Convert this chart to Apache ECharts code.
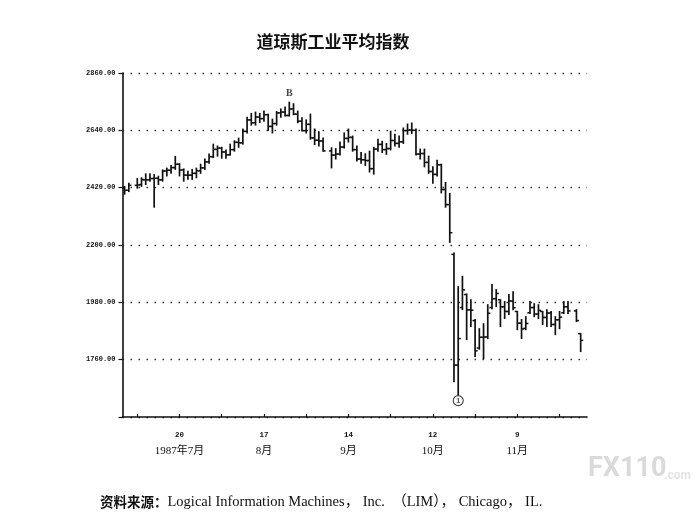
<!DOCTYPE html>
<html>
<head>
<meta charset="utf-8">
<script src="https://cdn.jsdelivr.net/npm/echarts@6.0.0/dist/echarts.min.js"></script>
<style>
html,body{margin:0;padding:0;background:#fff;}
#chart{width:697px;height:523px;}
</style>
</head>
<body>
<div id="chart"></div>
<script>
// Trading-day slots (weekdays, 1987)
const dates = [
 '7-1','7-2','7-3','7-6','7-7','7-8','7-9','7-10','7-13','7-14',
 '7-15','7-16','7-17','7-20','7-21','7-22','7-23','7-24','7-27','7-28',
 '7-29','7-30','7-31','8-3','8-4','8-5','8-6','8-7','8-10','8-11',
 '8-12','8-13','8-14','8-17','8-18','8-19','8-20','8-21','8-24','8-25',
 '8-26','8-27','8-28','8-31','9-1','9-2','9-3','9-4','9-7','9-8',
 '9-9','9-10','9-11','9-14','9-15','9-16','9-17','9-18','9-21','9-22',
 '9-23','9-24','9-25','9-28','9-29','9-30','10-1','10-2','10-5','10-6',
 '10-7','10-8','10-9','10-12','10-13','10-14','10-15','10-16','10-19','10-20',
 '10-21','10-22','10-23','10-26','10-27','10-28','10-29','10-30','11-2','11-3',
 '11-4','11-5','11-6','11-9','11-10','11-11','11-12','11-13','11-16','11-17',
 '11-18','11-19','11-20','11-23','11-24','11-25','11-26','11-27','11-30','12-1'
];
const opens = [
 2418,2410,null,2429,2432,2450,2450,2455,2456,2450,
 2484,2487,2497,2510,2488,2468,2468,2475,2485,2496,
 2519,2539,2567,2572,2557,2546,2566,2594,2592,2636,
 2680,2669,2691,2685,2700,2655,2666,2707,2710,2697,
 2722,2702,2675,2639,2663,2611,2602,2599,null,2561,
 2545,2549,2576,2609,2613,2566,2530,2527,2524,2493,
 2568,2586,2566,2570,2601,2590,2596,2639,2641,2640,
 2549,2551,2517,2482,2471,2508,2413,2355,2164,1739,
 1960,2010,1951,1910,1805,1846,1847,1960,1994,1990,
 1963,1945,1985,1945,1900,1880,1940,1960,1935,1945,
 1922,1939,1895,1913,1940,1963,null,1947,1860,null
];
const highs = [
 2425,2437,null,2455,2458,2473,2473,2470,2464,2488,
 2495,2505,2540,2512,2492,2483,2490,2495,2510,2530,
 2549,2587,2580,2575,2565,2587,2600,2610,2645,2690,
 2705,2710,2705,2714,2702,2683,2712,2722,2730,2748,
 2742,2714,2688,2680,2702,2645,2635,2611,null,2573,
 2570,2595,2630,2645,2618,2580,2555,2550,2560,2575,
 2606,2598,2590,2637,2625,2618,2649,2664,2668,2645,
 2568,2568,2541,2500,2525,2510,2440,2398,2169,2040,
 2080,2012,1990,1914,1879,1898,1971,2048,2029,1990,
 1983,2010,2021,1945,1914,1925,1983,1975,1971,1945,
 1952,1945,1925,1945,1983,1983,null,1952,1860,null
];
const lows = [
 2395,2405,null,2418,2425,2432,2445,2345,2432,2445,
 2465,2475,2490,2465,2445,2452,2452,2458,2475,2490,
 2514,2535,2541,2533,2533,2545,2560,2575,2587,2630,
 2660,2660,2670,2675,2640,2630,2660,2690,2695,2695,
 2700,2669,2637,2630,2606,2585,2580,2560,null,2496,
 2530,2545,2572,2595,2560,2522,2514,2505,2480,2472,
 2560,2555,2548,2565,2580,2575,2590,2625,2628,2545,
 2530,2500,2475,2437,2465,2400,2345,2210,1675,1625,
 1952,1837,1887,1772,1800,1764,1841,1955,1964,1887,
 1918,1933,1952,1875,1841,1875,1937,1925,1918,1895,
 1887,1887,1856,1879,1937,1937,null,1906,1791,null
];
const closes = [
 2410,2429,null,2430,2451,2450,2455,2456,2450,2484,
 2487,2497,2510,2488,2468,2468,2475,2485,2496,2519,
 2539,2567,2572,2557,2546,2566,2594,2592,2636,2680,
 2669,2691,2685,2700,2655,2666,2707,2710,2697,2722,
 2702,2675,2639,2663,2611,2602,2599,2561,null,2545,
 2549,2576,2609,2613,2566,2530,2527,2524,2493,2568,
 2586,2566,2570,2601,2590,2596,2639,2641,2640,2549,
 2551,2517,2482,2471,2508,2413,2355,2247,1739,1841,
 2028,1951,1950,1794,1846,1847,1938,1994,2014,1963,
 1945,1985,1959,1900,1878,1899,1960,1935,1949,1922,
 1939,1895,1913,1923,1963,1947,null,1910,1834,null
];
// axis ticks / labels
const tickDates = ['7-6','7-20','8-3','8-17','8-31','9-14','9-28','10-12','10-26','11-9','11-23'];
const labelDates = ['7-20','8-17','9-14','10-12','11-9'];
const dayLabels = ['20','17','14','12','9'];
const monthLabels = ['1987年7月','8月','9月','10月','11月'];
const yMin = 1540, yMax = 2860, yStep = 220;
// annotations
const peakNote = {date:'8-25', value:2783, text:'B'};
const crashNote = {date:'10-20', value:1603, text:'1'};

const ohlc = [];
dates.forEach((d,i)=>{
  if (highs[i] != null) ohlc.push([i, opens[i], highs[i], lows[i], closes[i]]);
});

function renderBar(params, api){
  const x = api.value(0);
  const o = api.coord([x, api.value(1)]);
  const h = api.coord([x, api.value(2)]);
  const l = api.coord([x, api.value(3)]);
  const c = api.coord([x, api.value(4)]);
  const w = 2.6;
  const st = {stroke:'#111', lineWidth:1.7};
  const tk = {stroke:'#111', lineWidth:1.5};
  return {type:'group', children:[
    {type:'line', shape:{x1:h[0], y1:h[1]-0.5, x2:l[0], y2:l[1]+0.5}, style:st},
    {type:'line', shape:{x1:o[0]-w, y1:o[1], x2:o[0], y2:o[1]}, style:tk},
    {type:'line', shape:{x1:c[0], y1:c[1], x2:c[0]+w, y2:c[1]}, style:tk}
  ]};
}

const chart = echarts.init(document.getElementById('chart'), null, {renderer:'canvas'});
chart.setOption({
  backgroundColor:'#fff',
  animation:false,
  grid:{left:122.5, right:110, top:73, bottom:106, containLabel:false},
  xAxis:{
    type:'category', data:dates, boundaryGap:true,
    axisLine:{lineStyle:{color:'#111', width:1.6}},
    axisTick:{show:true, inside:true, length:3, alignWithLabel:true,
      interval:(i)=>tickDates.indexOf(dates[i])>=0,
      lineStyle:{color:'#111', width:1.2}},
    axisLabel:{
      interval:(i)=>labelDates.indexOf(dates[i])>=0,
      margin:12, color:'#111',
      formatter:(v)=>{const k=labelDates.indexOf(v); return k<0?'':'{d|'+dayLabels[k]+'}\n{m|'+monthLabels[k]+'}';},
      rich:{
        d:{fontFamily:'Liberation Mono', fontWeight:'bold', fontSize:7.5, lineHeight:12, color:'#111'},
        m:{fontFamily:'Liberation Serif, Noto Sans CJK SC', fontSize:11, lineHeight:20, color:'#111'}
      }
    },
    splitLine:{show:false}
  },
  yAxis:{
    type:'value', min:yMin, max:yMax, interval:yStep,
    axisLine:{show:true, lineStyle:{color:'#111', width:1.6}},
    axisTick:{show:true, length:4, lineStyle:{color:'#111', width:1.2}},
    axisLabel:{formatter:(v)=> v===yMin ? '' : v.toFixed(2),
      fontFamily:'Liberation Mono', fontWeight:'bold', fontSize:7, color:'#111', margin:7},
    splitLine:{show:true, lineStyle:{type:[1.6,6.4], color:'#333', width:1.3}}
  },
  series:[
    {type:'custom', renderItem:renderBar, data:ohlc,
     encode:{x:0, y:[1,2,3,4]}, clip:false, silent:true},
    {type:'scatter', silent:true, symbol:'circle', symbolSize:1,
     itemStyle:{color:'rgba(0,0,0,0)'},
     data:[[dates.indexOf(peakNote.date), peakNote.value]],
     label:{show:true, position:'inside', formatter:peakNote.text,
       fontFamily:'Liberation Serif', fontWeight:'bold', fontSize:10, color:'#111'}},
    {type:'scatter', silent:true, symbol:'circle', symbolSize:10,
     itemStyle:{color:'#fff', borderColor:'#111', borderWidth:1.1},
     data:[[dates.indexOf(crashNote.date), crashNote.value]],
     label:{show:true, position:'inside', formatter:crashNote.text,
       fontFamily:'Liberation Sans', fontWeight:'bold', fontSize:7, color:'#111'}}
  ],
  graphic:[
    {type:'text', x:333, y:42, silent:true,
     style:{text:'道琼斯工业平均指数', fill:'#111', align:'center', verticalAlign:'middle',
       fontFamily:'Noto Sans CJK SC', fontWeight:'bold', fontSize:17}},
    {type:'text', x:100, y:502, silent:true,
     style:{text:'{b|资料来源：}{n|Logical Information Machines， Inc.  （LIM）， Chicago， IL.}',
       verticalAlign:'middle', fill:'#111',
       rich:{
         b:{fontFamily:'Noto Sans CJK SC', fontWeight:'bold', fontSize:13.5, fill:'#111'},
         n:{fontFamily:'Liberation Serif, Noto Sans CJK SC', fontSize:14.5, fill:'#111'}
       }}},
    {type:'text', x:588, y:469, silent:true,
     style:{text:'FX110', fill:'#dadada', verticalAlign:'middle',
       fontFamily:'Roboto', fontWeight:'bold', fontSize:27}},
    {type:'text', x:664, y:476, silent:true,
     style:{text:'.com', fill:'#e4e4e4', verticalAlign:'middle',
       fontFamily:'Roboto', fontWeight:'bold', fontSize:12}}
  ]
});
</script>
</body>
</html>
